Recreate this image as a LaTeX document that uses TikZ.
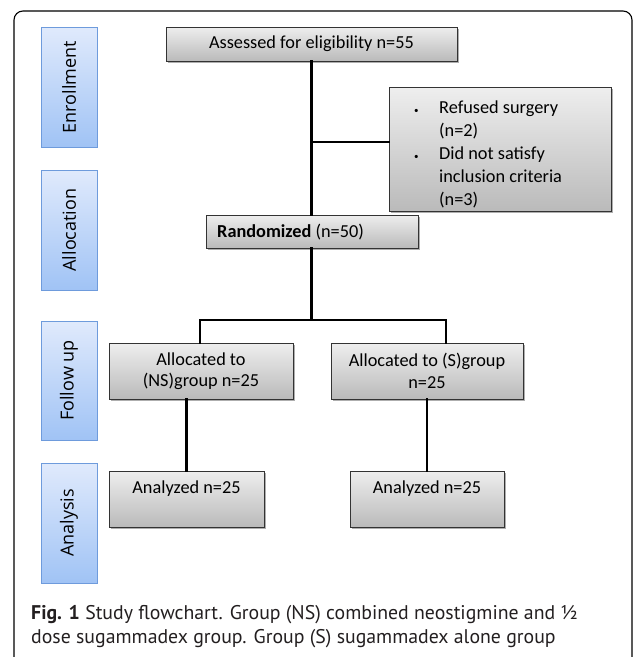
\documentclass[tikz,border=0pt]{standalone}
\usepackage{fontspec}
\setmainfont{Carlito}
\newfontfamily\sidefont{Open Sans}
\newfontfamily\capfont{PT Sans}
\usetikzlibrary{shadows}
\definecolor{sideborder}{RGB}{110,155,220}
\definecolor{sidetop}{RGB}{224,234,252}
\definecolor{sidebot}{RGB}{160,195,245}
\definecolor{graytop}{RGB}{238,238,238}
\definecolor{graybot}{RGB}{186,186,186}
\definecolor{captxt}{RGB}{35,31,32}
\tikzset{
  sidebox/.style={draw=sideborder, line width=0.8pt, top color=sidetop, bottom color=sidebot,
    minimum width=56pt, inner sep=0pt},
  sidetext/.style={rotate=90, font=\sidefont\fontsize{18}{20}\selectfont},
  graybox/.style={draw=black!80, line width=0.9pt, top color=graytop, bottom color=graybot,
    inner sep=0pt, font=\fontsize{18.3}{21.5}\selectfont,
    drop shadow={shadow xshift=1.6pt, shadow yshift=-1.6pt, opacity=0.45, fill=black!70}},
  boxtext/.style={inner sep=0pt, font=\fontsize{18.3}{23}\selectfont},
  captext/.style={anchor=base west, inner sep=0pt, text=captxt, font=\capfont\fontsize{19.8}{24}\selectfont},
  conn/.style={line width=2.6pt, line cap=rect}
}
\begin{document}
\begin{tikzpicture}[x=1pt,y=1pt]
\useasboundingbox (0,0) rectangle (633,-657);
\fill[white] (0,0) rectangle (633,-657);
\draw[line width=1.1pt, rounded corners=9pt] (14,-11) rectangle (632,-672);

% sidebar
\node[sidebox, minimum height=120pt] (enr) at (69,-87) {};
\node[sidetext] (enrT) at (enr.center) {Enrollment};
\node[sidebox, minimum height=120pt] (alc) at (69,-230) {};
\node[sidetext] (alcT) at (alc.center) {Allocation};
\node[sidebox, minimum height=119pt] (fol) at (69,-380.5) {};
\node[sidetext] (folT) at (fol.center) {Follow up};
\node[sidebox, minimum height=120pt] (ana) at (69,-523) {};
\node[sidetext] (anaT) at (ana.center) {Analysis};

% boxes
\node[graybox, minimum width=291pt, minimum height=34pt] (ass) at (311.5,-44) {Assessed for eligibility n=55};
\node[graybox, minimum width=222pt, minimum height=124pt] (ref) at (500,-149.5) {};
\node[anchor=base west, inner sep=0pt, align=left, font=\fontsize{18.3}{23}\selectfont] (refT) at (412,-205)
  {\makebox[27pt][l]{\hspace{2pt}\small•}Refused surgery\\ \hspace{27pt}(n=2)\\ \makebox[27pt][l]{\hspace{2pt}\small•}Did not satisfy\\ \hspace{27pt}inclusion criteria\\ \hspace{27pt}(n=3)};
\node[graybox, minimum width=212pt, minimum height=33pt] (ran) at (312,-231.5) {};
\node[boxtext, anchor=west] (ranT) at (217,-232) {\textbf{Randomized} (n=50)};
\node[graybox, minimum width=184pt, minimum height=56pt, align=center] (ns) at (201,-371) {Allocated to\\(NS)group n=25};
\node[graybox, minimum width=192pt, minimum height=56pt, align=center] (sg) at (427,-371) {Allocated to (S)group\\n=25};
\node[graybox, minimum width=155pt, minimum height=56pt] (a1) at (186.5,-499) {};
\node[graybox, minimum width=154pt, minimum height=56pt] (a2) at (427,-499) {};
\node[boxtext] (a1T) at (186.5,-489) {Analyzed n=25};
\node[boxtext] (a2T) at (427,-489) {Analyzed n=25};

% connectors
\coordinate (br) at (311.5,-142);
\coordinate (split) at (311.5,-320);
\coordinate (sT) at (446,-343);
\coordinate (nsT) at (200,-343);
\draw[conn] (ass.south) -- (ass.south |- ran.north);
\draw[conn] (br) -- (br -| ref.west);
\draw[conn] (ran.south -| split) -- (split);
\draw[conn] (nsT) |- (split) -| (sT);
\draw[conn] (a1.north) -- (a1.north |- ns.south);
\draw[conn] (a2.north) -- (a2.north |- sg.south);

% caption
\node[captext] (cap1) at (31,-619)
  {\textbf{Fig. 1} Study flowchart. Group (NS) combined neostigmine and ½};
\node[captext] (cap2) at (31,-643)
  {dose sugammadex group. Group (S) sugammadex alone group};
\end{tikzpicture}
\end{document}
